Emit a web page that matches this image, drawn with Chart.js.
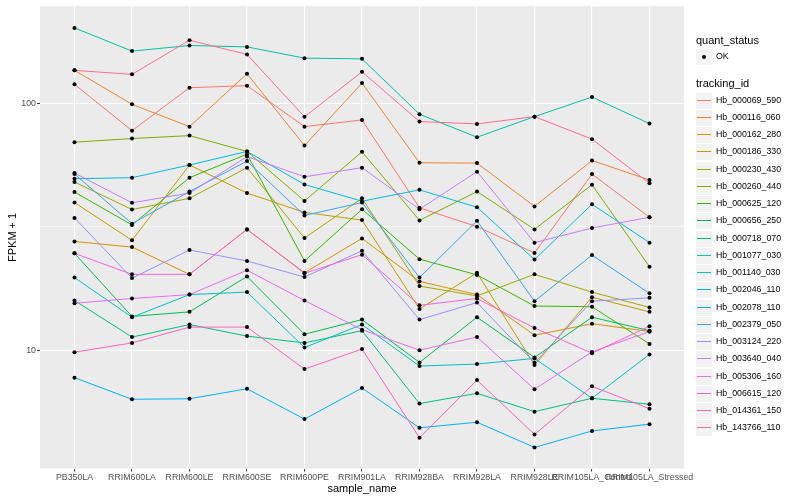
<!DOCTYPE html>
<html>
<head>
<meta charset="utf-8">
<script src="https://cdn.jsdelivr.net/npm/chart.js@4.4.1/dist/chart.umd.min.js"></script>
<style>
  html, body { margin: 0; padding: 0; background: #fff; overflow: hidden; }
  #wrap { position: relative; width: 800px; height: 500px; font-family: "Liberation Sans", Arial, sans-serif; }
  #chart { position: absolute; left: 0; top: 0; }
  #legend { position: absolute; left: 696px; top: 0; width: 104px; height: 500px; color: #000; }
  .ltitle { position: absolute; left: 0; font-size: 11px; white-space: nowrap; }
  .lrow { position: absolute; left: 0; height: 17px; white-space: nowrap; }
  .lkey { position: absolute; left: 0; top: 0; width: 16px; height: 16px; background: #f2f2f2; }
  .lline { position: absolute; left: 1px; top: 7px; width: 14px; height: 1px; }
  .ldot { position: absolute; left: 6px; top: 6px; width: 4px; height: 4px; border-radius: 2px; background: #000; }
  .llabel { position: absolute; left: 20px; top: 2px; font-size: 8.8px; color: #000; }
</style>
</head>
<body>
<div id="wrap">
  <canvas id="chart" width="800" height="500"></canvas>
  <div id="legend"></div>
</div>
<script>
// categorias del eje x
const categories = ['PB350LA', 'RRIM600LA', 'RRIM600LE', 'RRIM600SE', 'RRIM600PE', 'RRIM901LA',
  'RRIM928BA', 'RRIM928LA', 'RRIM928LE', 'RRIM105LA_Control', 'RRIM105LA_Stressed'];

// FPKM + 1 por tracking_id
const hb000069_590 = [119.8, 77.7, 116.1, 118.3, 80.7, 85.9, 37.8, 31.7, 24.8, 51.8, 34.6];
const hb000116_060 = [136.5, 99.4, 80.7, 132.2, 67.6, 121.2, 57.6, 57.4, 38.3, 58.8, 49.0];
const hb000162_280 = [27.6, 26.2, 20.3, 30.9, 20.6, 28.4, 19.0, 16.8, 11.5, 12.8, 11.9];
const hb000186_330 = [39.7, 27.9, 56.4, 43.4, 36.2, 33.7, 14.7, 20.6, 8.7, 16.4, 14.3];
const hb000230_430 = [48.1, 37.2, 41.3, 55.0, 28.5, 41.3, 18.2, 16.6, 20.3, 17.2, 14.9];
const hb000260_440 = [69.8, 72.2, 74.2, 64.0, 40.3, 63.8, 33.6, 44.0, 30.9, 46.9, 21.8];
const hb000625_120 = [43.8, 32.2, 50.1, 62.4, 23.0, 37.3, 23.4, 20.2, 15.1, 15.0, 10.6];
const hb000656_250 = [24.7, 13.7, 14.3, 19.9, 11.6, 13.3, 8.92, 13.6, 9.34, 13.6, 12.0];
const hb000718_070 = [15.9, 11.3, 12.7, 11.4, 10.7, 12.0, 6.07, 6.68, 5.63, 6.38, 6.03];
const hb001077_030 = [203, 163.4, 172.2, 170, 153, 152, 90.6, 73.1, 88.6, 106.4, 83.0];
const hb001140_030 = [19.7, 13.6, 16.8, 17.2, 10.25, 12.7, 8.62, 8.78, 9.26, 6.38, 9.61];
const hb002046_110 = [49.6, 50.1, 56.4, 64.0, 47.0, 40.2, 44.7, 38.0, 23.3, 39.1, 27.3];
const hb002078_110 = [7.73, 6.32, 6.35, 6.97, 5.25, 7.02, 4.84, 5.10, 4.03, 4.70, 5.01];
const hb002379_050 = [51.8, 32.6, 44.0, 58.5, 35.2, 39.7, 19.7, 33.5, 15.8, 24.3, 17.0];
const hb003124_220 = [34.4, 19.6, 25.5, 23.0, 19.8, 25.3, 13.3, 15.6, 8.89, 15.8, 16.3];
const hb003640_040 = [52.3, 39.6, 43.4, 61.0, 50.5, 55.0, 37.3, 53.0, 27.3, 31.3, 34.6];
const hb005306_160 = [15.5, 16.2, 16.8, 21.1, 15.9, 12.1, 10.0, 11.3, 6.94, 9.84, 11.9];
const hb006615_120 = [24.7, 20.3, 20.3, 30.9, 20.5, 24.4, 15.2, 16.2, 12.3, 9.72, 12.5];
const hb014361_150 = [9.81, 10.7, 12.4, 12.4, 8.38, 10.1, 4.41, 7.56, 4.55, 7.13, 5.79];
const hb143766_110 = [136.5, 131.5, 180.9, 158.4, 88.4, 134.7, 84.6, 82.8, 88.6, 71.8, 47.5];

const seriesNames = ['Hb_000069_590', 'Hb_000116_060', 'Hb_000162_280', 'Hb_000186_330', 'Hb_000230_430',
  'Hb_000260_440', 'Hb_000625_120', 'Hb_000656_250', 'Hb_000718_070', 'Hb_001077_030',
  'Hb_001140_030', 'Hb_002046_110', 'Hb_002078_110', 'Hb_002379_050', 'Hb_003124_220',
  'Hb_003640_040', 'Hb_005306_160', 'Hb_006615_120', 'Hb_014361_150', 'Hb_143766_110'];
const seriesValues = [hb000069_590, hb000116_060, hb000162_280, hb000186_330, hb000230_430,
  hb000260_440, hb000625_120, hb000656_250, hb000718_070, hb001077_030,
  hb001140_030, hb002046_110, hb002078_110, hb002379_050, hb003124_220,
  hb003640_040, hb005306_160, hb006615_120, hb014361_150, hb143766_110];
const seriesColors = ['#F8766D', '#EA8331', '#D89000', '#C09B00', '#A3A500', '#7CAE00', '#39B600',
  '#00BB4E', '#00BF7D', '#00C1A3', '#00BFC4', '#00BAE0', '#00B0F6', '#35A2FF', '#9590FF',
  '#C77CFF', '#E76BF3', '#FA62DB', '#FF62BC', '#FF6C91'];

// marcas del eje y (log10)
const yMajorTicks = [10, 100];
const yMinorTicks = [Math.sqrt(1000)];
const statusLabels = ['OK'];

// fondo gris del panel (estilo ggplot)
const panelBg = {
  id: 'panelBg',
  beforeDraw(chart) {
    const a = chart.chartArea;
    const ctx = chart.ctx;
    ctx.save();
    ctx.fillStyle = '#EBEBEB';
    ctx.fillRect(a.left, a.top, a.right - a.left, a.bottom - a.top);
    ctx.restore();
  }
};

const isMajor = v => yMajorTicks.indexOf(v) >= 0;

const datasets = [];
// puntos negros encima de las lineas
seriesValues.forEach((vals, i) => {
  datasets.push({
    label: seriesNames[i] + ' pts',
    data: vals.map((v, j) => ({ x: j, y: v })),
    showLine: false,
    pointRadius: 2,
    pointBackgroundColor: '#000',
    pointBorderWidth: 0,
    order: 0
  });
});
seriesValues.forEach((vals, i) => {
  datasets.push({
    label: seriesNames[i],
    data: vals.map((v, j) => ({ x: j, y: v })),
    borderColor: seriesColors[i],
    borderWidth: 1,
    pointRadius: 0,
    fill: false,
    tension: 0,
    order: 100 - i
  });
});

new Chart(document.getElementById('chart'), {
  type: 'line',
  data: { datasets: datasets },
  plugins: [panelBg],
  options: {
    responsive: false,
    animation: false,
    layout: { padding: { left: 0, right: 116, top: 5, bottom: 0 } },
    plugins: { legend: { display: false }, tooltip: { enabled: false } },
    scales: {
      x: {
        type: 'linear',
        min: -0.6,
        max: categories.length - 0.4,
        afterBuildTicks: scale => { scale.ticks = categories.map((c, i) => ({ value: i })); },
        afterFit: scale => { scale.height = 31.5; },
        grid: { color: '#FFFFFF', lineWidth: 1.1, tickColor: '#333333', tickLength: 3, tickWidth: 1 },
        border: { display: false },
        ticks: {
          autoSkip: false, maxRotation: 0, minRotation: 0, padding: 1,
          color: '#4D4D4D', font: { family: 'Liberation Sans', size: 8.8 },
          callback: v => categories[v]
        },
        title: {
          display: true, text: 'sample_name', color: '#000',
          font: { family: 'Liberation Sans', size: 11 }, padding: { top: 0, bottom: 4 }
        }
      },
      y: {
        type: 'logarithmic',
        min: 3.31,
        max: 248.4,
        afterBuildTicks: scale => {
          scale.ticks = yMinorTicks.concat(yMajorTicks).sort((a, b) => a - b).map(v => ({ value: v }));
        },
        afterFit: scale => { scale.width = 40; },
        grid: {
          color: '#FFFFFF',
          lineWidth: c => (c.tick && isMajor(c.tick.value)) ? 1.1 : 0.55,
          tickColor: c => (c.tick && isMajor(c.tick.value)) ? '#333333' : 'rgba(0,0,0,0)',
          tickLength: 3,
          tickWidth: 1
        },
        border: { display: false },
        ticks: {
          padding: 1, color: '#4D4D4D', font: { family: 'Liberation Sans', size: 8.8 },
          callback: v => isMajor(v) ? String(v) : ''
        },
        title: {
          display: true, text: 'FPKM + 1', color: '#000',
          font: { family: 'Liberation Sans', size: 11 }, padding: { top: 6, bottom: 0 }
        }
      }
    }
  }
});

// leyenda al estilo ggplot
const legend = document.getElementById('legend');
function addTitle(text, centerY) {
  const t = document.createElement('div');
  t.className = 'ltitle';
  t.textContent = text;
  t.style.top = (centerY - 7) + 'px';
  legend.appendChild(t);
}
function addRow(label, centerY, color, dot) {
  const r = document.createElement('div');
  r.className = 'lrow';
  r.style.top = Math.round(centerY - 8) + 'px';
  const k = document.createElement('div');
  k.className = 'lkey';
  const mark = document.createElement('div');
  if (dot) {
    mark.className = 'ldot';
  } else {
    mark.className = 'lline';
    mark.style.background = color;
  }
  k.appendChild(mark);
  r.appendChild(k);
  const l = document.createElement('div');
  l.className = 'llabel';
  l.textContent = label;
  r.appendChild(l);
  legend.appendChild(r);
}
addTitle('quant_status', 40.5);
statusLabels.forEach((s, i) => addRow(s, 57.3 + i * 17.24, '#000', true));
addTitle('tracking_id', 84);
seriesNames.forEach((n, i) => addRow(n, 100.7 + i * 17.24, seriesColors[i], false));
</script>
</body>
</html>
